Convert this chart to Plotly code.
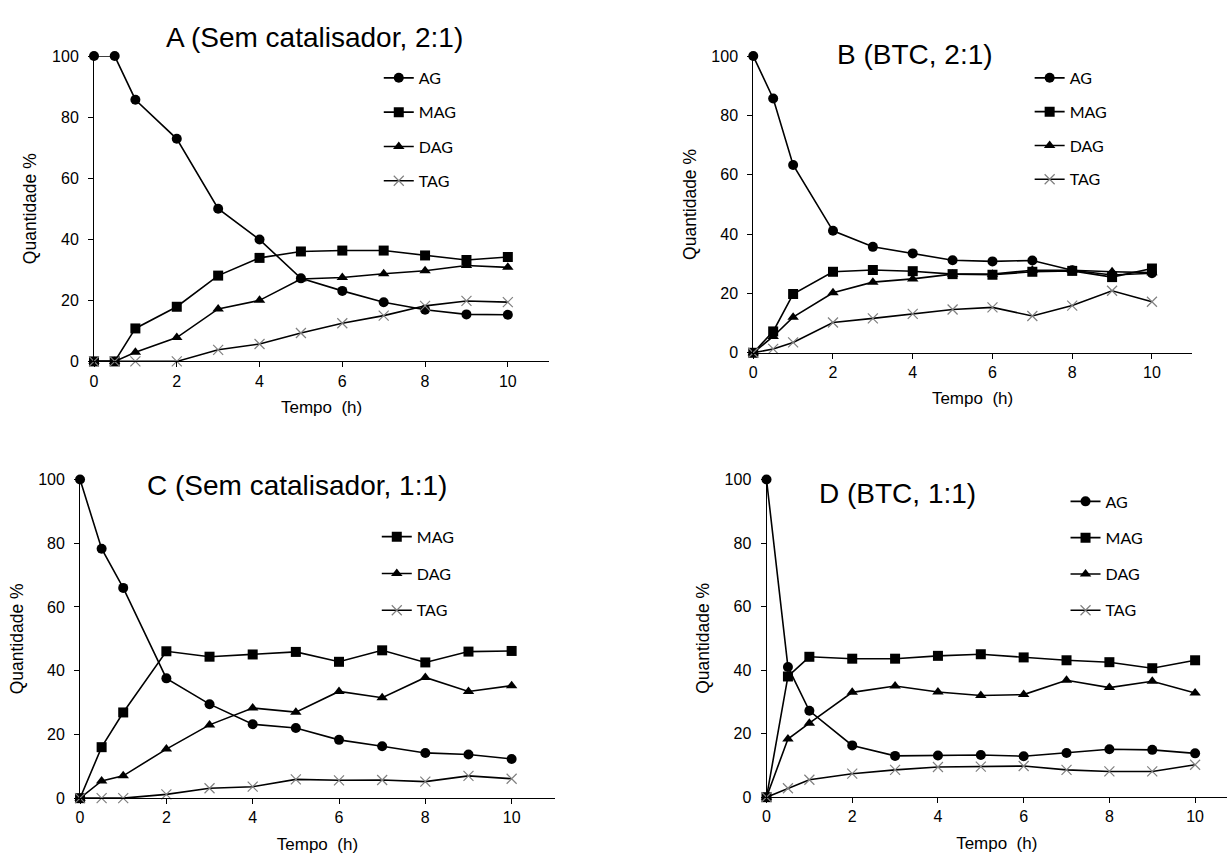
import plotly.graph_objects as go

# Reaction time (h)
tempo = [0, 0.5, 1, 2, 3, 4, 5, 6, 7, 8, 9, 10]

# A (Sem catalisador, 2:1)
a_ag = [100, 100, 85.7, 72.9, 50.0, 39.9, 27.2, 23.1, 19.4, 16.9, 15.4, 15.3]
a_mag = [0, 0, 10.8, 17.9, 28.1, 33.9, 36.0, 36.3, 36.3, 34.7, 33.2, 34.2]
a_dag = [0, 0, 3.0, 7.8, 17.2, 20.0, 27.0, 27.5, 28.7, 29.7, 31.4, 30.8]
a_tag = [0, 0, 0, 0, 3.8, 5.7, 9.3, 12.5, 15.0, 18.2, 19.8, 19.4]

# B (BTC, 2:1)
b_ag = [100, 85.7, 63.3, 41.1, 35.7, 33.5, 31.2, 30.8, 31.1, 27.8, 26.2, 26.8]
b_mag = [0, 7.2, 19.8, 27.3, 27.9, 27.5, 26.5, 26.3, 27.3, 27.6, 25.5, 28.4]
b_dag = [0, 5.5, 12.0, 20.2, 23.8, 24.9, 26.5, 26.5, 27.8, 27.8, 27.3, 27.0]
b_tag = [0, 1.3, 3.5, 10.2, 11.6, 13.1, 14.6, 15.3, 12.4, 15.9, 20.9, 17.2]

# C (Sem catalisador, 1:1)
c_ag = [100, 78.3, 66.0, 37.6, 29.5, 23.2, 22.0, 18.3, 16.3, 14.2, 13.7, 12.3]
c_mag = [0, 16.0, 26.9, 46.1, 44.4, 45.1, 45.9, 42.8, 46.4, 42.6, 46.0, 46.2]
c_dag = [0, 5.4, 7.0, 15.4, 23.0, 28.3, 27.0, 33.5, 31.5, 37.9, 33.5, 35.3]
c_tag = [0, 0, 0, 1.2, 3.1, 3.6, 5.9, 5.6, 5.7, 5.2, 7.0, 6.1]

# D (BTC, 1:1)
d_ag = [100, 41.0, 27.2, 16.3, 13.0, 13.1, 13.3, 12.9, 13.9, 15.1, 14.9, 13.8]
d_mag = [0, 38.0, 44.2, 43.6, 43.6, 44.5, 45.0, 44.0, 43.1, 42.5, 40.6, 43.1]
d_dag = [0, 18.3, 23.3, 33.0, 35.0, 33.1, 32.0, 32.3, 36.8, 34.5, 36.5, 32.8]
d_tag = [0, 2.8, 5.5, 7.4, 8.6, 9.5, 9.6, 9.8, 8.6, 8.1, 8.1, 10.2]

series_names = ["AG", "MAG", "DAG", "TAG"]
titles = ["A (Sem catalisador, 2:1)", "B (BTC, 2:1)",
          "C (Sem catalisador, 1:1)", "D (BTC, 1:1)"]

W, H = 1227, 865
AXFONT = "Liberation Sans, Arial, sans-serif"
LEGFONT = "Lato, Carlito, sans-serif"

# panel boxes in pixels: (left, right, top, bottom, x max)
panels = [
    (90.3, 547.0, 49.0, 360.5, 11.0),
    (751.7, 1191.7, 49.0, 351.7, 11.0),
    (76.3, 552.6, 481.0, 806.0, 11.0),
    (765.0, 1227.0, 481.0, 805.0, 10.744),
]
title_pos = [(312, 30), (914, 47), (294, 487), (896, 495)]
# legend top-left corner (px) and gap between entries
legend_pos = [(376, 54), (1029, 54), (374, 522), (1065, 486)]
legend_gap = [10.5, 10.0, 13.0, 12.5]

data = [
    (a_ag, a_mag, a_dag, a_tag),
    (b_ag, b_mag, b_dag, b_tag),
    (c_ag, c_mag, c_dag, c_tag),
    (d_ag, d_mag, d_dag, d_tag),
]

marker_styles = {
    "AG": dict(symbol="circle", size=10, color="black"),
    "MAG": dict(symbol="square", size=10, color="black"),
    "DAG": dict(symbol="triangle-up", size=10, color="black"),
    "TAG": dict(symbol="x-thin", size=10, color="#808080",
                line=dict(color="#808080", width=1.2)),
}

fig = go.Figure()
layout = {}

for i, (box, vals) in enumerate(zip(panels, data)):
    left, right, top, bottom, xmax = box
    n = "" if i == 0 else str(i + 1)
    xa, ya = "x" + n, "y" + n
    leg = "legend" + n
    for name, v in zip(series_names, vals):
        show = not (i == 2 and name == "AG")
        fig.add_trace(go.Scatter(
            x=tempo, y=v, name=name, mode="lines+markers",
            xaxis=xa, yaxis=ya, legend=leg, legendgroup=f"{leg}_{name}",
            showlegend=show, cliponaxis=False,
            line=dict(color="black", width=1.6),
            marker=marker_styles[name],
        ))
    axis_common = dict(
        showline=True, linecolor="black", linewidth=1,
        ticks="outside", ticklen=5, tickwidth=1, tickcolor="black",
        showgrid=False, zeroline=False,
        tickfont=dict(family=AXFONT, size=16, color="black"),
    )
    layout["xaxis" + n] = dict(
        axis_common, domain=[left / W, right / W], range=[0, xmax],
        tickvals=[0, 2, 4, 6, 8, 10], anchor=ya,
        title=dict(text="Tempo  (h)", standoff=12,
                   font=dict(family=AXFONT, size=17, color="black")),
    )
    layout["yaxis" + n] = dict(
        axis_common, domain=[1 - bottom / H, 1 - top / H], range=[0, 100],
        tickvals=[0, 20, 40, 60, 80, 100], anchor=xa,
        ticklabelstandoff=6,
        title=dict(text="Quantidade %", standoff=10,
                   font=dict(family=AXFONT, size=17.5, color="black")),
    )
    lx, ly = legend_pos[i]
    layout[leg] = dict(
        x=lx / W, y=1 - ly / H, xanchor="left", yanchor="top",
        bgcolor="rgba(0,0,0,0)", borderwidth=0,
        traceorder="grouped", tracegroupgap=legend_gap[i],
        font=dict(family=LEGFONT, size=16, color="black"),
        itemwidth=30,
    )

annotations = []
for (tx, ty), t in zip(title_pos, titles):
    annotations.append(dict(
        text=t, x=tx / W, y=1 - ty / H, xref="paper", yref="paper",
        xanchor="center", yanchor="middle", showarrow=False,
        font=dict(family=AXFONT, size=28, color="black"),
    ))

fig.update_layout(
    **layout,
    annotations=annotations,
    width=W, height=H,
    margin=dict(l=0, r=0, t=0, b=0),
    paper_bgcolor="white", plot_bgcolor="white",
    showlegend=True,
)

fig.write_html("out.html")
